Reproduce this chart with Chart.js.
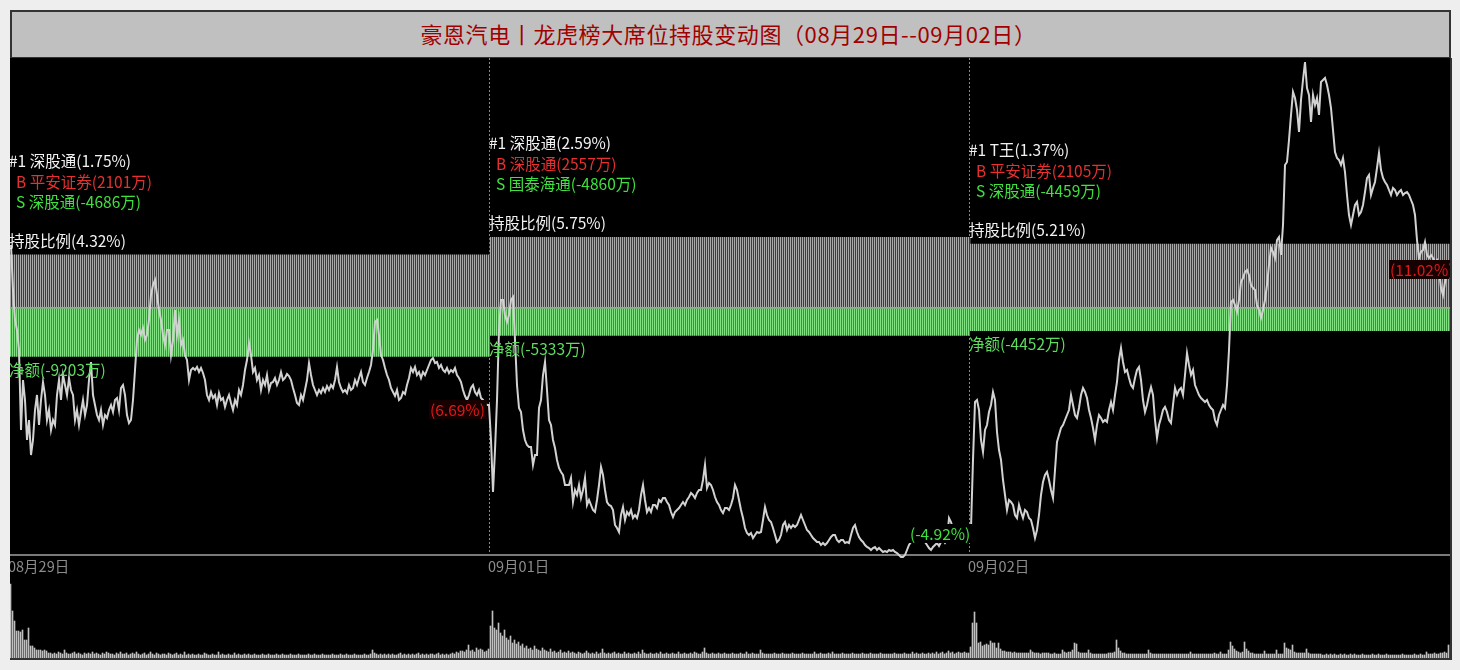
<!DOCTYPE html>
<html><head><meta charset="utf-8">
<script src="https://cdn.jsdelivr.net/npm/chart.js@4/dist/chart.umd.min.js"></script>
<style>
html,body{margin:0;padding:0;background:#eeeeee;width:1460px;height:670px;overflow:hidden;}
#title{position:absolute;left:10px;top:10px;width:1441px;height:49px;box-sizing:border-box;border:2px solid #333;background:#c0c0c0;color:#a00000;font:22px "Noto Sans CJK SC";letter-spacing:0.6px;text-align:center;line-height:43px;padding-right:4px;}
#wrap{position:absolute;left:10px;top:58px;width:1440px;height:600px;background:#000;border-right:2px solid #333;border-bottom:2px solid #333;}
canvas{display:block;}
</style></head>
<body>
<div id="title">豪恩汽电丨龙虎榜大席位持股变动图（08月29日--09月02日）</div>
<div id="wrap"><canvas id="c" width="1440" height="600"></canvas></div>
<script>
// ---- categories / labels ----
const dates = ['08月29日','09月01日','09月02日'];
const topSeat = ['深股通','深股通','T王'];
const topSeatPct = ['1.75%','2.59%','1.37%'];
const buySeat = ['平安证券','深股通','平安证券'];
const buyAmt = [2101, 2557, 2105];
const sellSeat = ['深股通','国泰海通','深股通'];
const sellAmt = [-4686, -4860, -4459];
const holdPct = [4.32, 5.75, 5.21];
const netAmt = [-9203, -5333, -4452];
const dayChg = ['6.69%', '-4.92%', '11.02%'];

// ---- minute prices (元), 240 per day ----
const price0829 = [
51.24,50.34,49.74,49.54,49.14,47.54,48.54,48.14,47.34,47.74,
47.04,47.34,47.94,48.24,47.64,48.14,48.50,48.24,47.74,47.94,
47.54,47.74,47.64,48.24,48.54,48.14,48.64,48.44,48.24,48.58,
48.34,48.24,47.74,47.94,47.64,47.90,48.14,47.84,48.04,48.54,
48.90,48.24,48.04,47.84,47.74,47.94,47.64,47.84,47.78,47.94,
48.04,47.90,48.14,48.18,47.94,48.38,48.44,48.24,47.84,47.68,
47.74,48.14,48.74,49.34,49.54,49.44,49.58,49.34,49.44,49.74,
50.24,50.44,50.54,50.24,49.94,49.74,49.44,49.24,49.54,49.54,
49.04,49.34,49.94,49.44,49.74,49.24,49.34,49.04,48.94,48.54,
48.74,48.78,48.74,48.80,48.70,48.78,48.68,48.54,48.24,48.14,
48.30,48.18,48.24,48.04,48.28,48.14,48.18,48.00,48.14,48.24,
48.08,47.94,48.14,48.04,48.34,48.24,48.44,48.74,48.94,49.28,
49.04,48.70,48.78,48.54,48.64,48.34,48.54,48.44,48.64,48.34,
48.48,48.50,48.58,48.44,48.54,48.70,48.54,48.58,48.66,48.62,
48.54,48.38,48.24,48.08,48.04,48.24,48.14,48.34,48.54,48.88,
48.64,48.44,48.34,48.24,48.34,48.28,48.38,48.30,48.42,48.34,
48.44,48.38,48.54,48.80,48.50,48.38,48.30,48.34,48.28,48.44,
48.34,48.38,48.54,48.44,48.58,48.70,48.50,48.44,48.58,48.70,
48.84,49.14,49.70,49.74,49.44,49.04,48.94,48.78,48.64,48.54,
48.38,48.30,48.22,48.34,48.14,48.18,48.30,48.26,48.44,48.58,
48.78,48.70,48.80,48.64,48.70,48.58,48.70,48.64,48.74,48.84,
48.94,48.98,48.88,48.90,48.78,48.84,48.74,48.70,48.78,48.68,
48.74,48.70,48.78,48.64,48.58,48.50,48.34,48.22,48.14,48.24,
48.38,48.44,48.30,48.24,48.34,48.18,48.14,48.08,48.04,48.04];
const price0901 = [
47.34,46.30,47.14,48.14,49.54,50.14,50.14,49.84,49.70,49.84,
50.14,50.20,49.34,48.44,47.98,47.90,47.54,47.34,47.24,47.20,
47.20,46.84,47.04,47.04,47.98,48.14,48.64,48.90,48.34,47.74,
47.64,47.34,47.18,46.94,46.78,46.70,46.64,46.44,46.44,46.44,
46.58,46.10,46.34,46.24,46.44,46.18,46.34,46.58,46.04,46.14,
46.04,45.94,45.90,46.14,46.44,46.80,46.64,46.34,46.10,46.04,
46.02,45.94,45.64,45.58,45.50,45.84,46.00,45.74,45.90,45.84,
45.94,45.78,45.84,45.78,45.94,46.24,46.44,46.14,45.90,45.98,
45.90,46.04,46.04,45.98,46.14,46.10,46.18,46.18,46.10,46.04,
45.90,45.80,45.90,45.94,45.98,46.04,46.10,46.04,46.14,46.20,
46.28,46.24,46.18,46.28,46.34,46.34,46.54,46.84,46.38,46.48,
46.44,46.34,46.20,46.10,46.04,45.94,45.88,45.98,45.98,45.94,
46.04,46.18,46.44,46.34,46.14,45.94,45.78,45.58,45.48,45.44,
45.48,45.38,45.44,45.50,45.48,45.50,45.74,46.00,45.84,45.74,
45.70,45.58,45.44,45.30,45.34,45.44,45.64,45.70,45.54,45.64,
45.58,45.64,45.60,45.64,45.74,45.84,45.74,45.64,45.54,45.50,
45.44,45.38,45.34,45.30,45.30,45.24,45.28,45.24,45.28,45.34,
45.40,45.44,45.44,45.34,45.30,45.34,45.34,45.28,45.30,45.28,
45.44,45.58,45.64,45.50,45.40,45.34,45.30,45.24,45.20,45.18,
45.14,45.18,45.20,45.14,45.18,45.14,45.10,45.12,45.10,45.14,
45.12,45.14,45.10,45.08,45.04,45.00,45.00,45.04,45.14,45.24,
45.30,45.34,45.50,45.54,45.40,45.34,45.38,45.30,45.24,45.18,
45.14,45.20,45.24,45.28,45.22,45.30,45.34,45.28,45.34,45.78,
45.70,45.56,45.50,45.52,45.48,45.50,45.46,45.48,45.46,45.46];
const price0902 = [
45.58,46.94,48.10,48.14,47.94,47.34,47.10,47.54,47.64,47.90,
48.04,48.30,48.14,47.50,47.14,46.94,46.54,46.24,45.94,46.14,
46.10,46.04,45.84,45.78,46.04,45.90,45.78,45.94,45.90,45.78,
45.74,45.58,45.38,45.54,45.84,46.24,46.50,46.64,46.70,46.54,
46.34,46.18,46.74,47.30,47.44,47.58,47.64,47.74,47.84,47.94,
48.24,48.04,47.84,47.78,47.98,48.24,48.38,48.30,48.18,47.94,
47.78,47.58,47.34,47.64,47.84,47.78,47.70,47.74,47.70,47.94,
48.10,47.94,48.24,48.50,48.94,49.18,48.90,48.70,48.74,48.58,
48.44,48.38,48.58,48.74,48.80,48.54,48.14,47.90,48.04,48.24,
48.40,48.24,47.74,47.38,47.64,47.78,47.94,48.00,47.90,47.74,
47.68,48.04,48.38,48.24,48.34,48.38,48.24,48.64,49.08,48.84,
48.64,48.74,48.44,48.34,48.24,48.18,48.14,48.10,48.14,48.04,
47.98,47.94,47.74,47.64,47.84,47.94,48.04,47.98,48.44,49.14,
50.10,50.14,50.04,49.90,50.14,50.50,50.58,50.70,50.74,50.64,
50.44,50.38,50.34,50.04,49.94,49.78,49.94,50.14,50.44,50.84,
51.18,51.10,50.98,51.34,51.40,51.04,51.64,52.84,52.90,53.34,
53.84,54.30,54.18,53.94,53.50,54.14,54.54,54.90,54.38,54.24,
53.70,54.24,54.04,54.18,53.84,54.50,54.54,54.58,54.44,54.24,
53.98,53.54,53.10,52.98,52.94,52.84,52.98,52.70,52.24,51.84,
51.64,51.84,52.04,52.10,51.84,51.90,52.04,52.30,52.58,52.64,
52.24,52.38,52.50,52.78,53.08,52.74,52.58,52.50,52.44,52.34,
52.24,52.38,52.34,52.24,52.30,52.34,52.24,52.28,52.30,52.24,
52.14,52.04,51.84,51.34,50.98,51.10,51.14,51.30,51.04,50.98,
51.04,50.98,50.90,50.94,50.74,50.38,50.24,50.50,50.64,50.70];

// ---- minute volume (百手), 240 per day ----
const vol0829 = [
74,47,37,27,27,26,28,18,18,30, 12,12,10,8,8,8,7,8,7,5,
5,4,5,4,6,5,4,8,5,4, 4,5,6,4,5,4,3,5,4,5,
4,6,4,5,4,3,5,4,6,5, 4,4,3,5,4,6,4,4,5,3,
4,5,4,6,4,3,4,5,3,4, 6,4,3,5,4,3,4,4,3,5,
4,3,4,5,3,4,3,6,3,4, 3,4,3,3,4,3,3,5,4,3,
3,4,3,3,6,3,4,3,3,4, 3,3,5,3,4,3,3,4,3,4,
3,3,4,3,3,3,4,3,3,4, 3,3,3,4,3,3,4,3,3,3,
4,3,3,3,4,3,3,3,3,4, 3,3,4,3,3,3,4,3,3,3,
3,4,3,3,3,4,3,3,4,3, 3,3,4,3,3,3,3,4,3,3,
4,8,5,4,3,4,3,4,3,4, 3,4,3,3,4,5,3,4,3,4,
3,4,3,4,5,3,4,3,4,3, 4,4,3,4,5,3,4,3,4,3,
4,5,4,6,5,7,7,6,8,13, 7,8,6,10,8,9,8,6,7,9];
const vol0901 = [
32,47,30,28,35,25,22,28,20,18, 22,15,18,14,16,12,14,10,12,9,
10,8,12,9,8,7,10,8,7,6, 9,6,7,5,6,8,5,6,5,7,
5,6,5,4,6,5,4,5,7,5, 4,5,4,6,4,5,9,5,4,5,
4,5,6,4,5,4,4,6,4,5, 4,4,5,4,6,4,8,5,4,4,
5,4,4,5,4,6,4,4,5,4, 4,5,4,4,6,4,4,5,4,4,
5,4,6,5,4,4,6,10,5,4, 4,5,4,4,5,4,4,5,4,4,
4,5,4,4,4,5,4,4,6,4, 4,5,4,4,4,8,5,4,4,4,
4,4,5,4,4,4,5,4,4,4, 4,5,4,4,4,4,5,4,4,4,
4,4,6,4,4,5,4,4,4,5, 4,6,4,4,4,4,5,4,4,4,
4,5,4,4,4,4,5,4,4,4, 5,4,4,4,4,5,4,4,4,4,
4,4,5,4,4,4,4,5,4,4, 4,6,4,5,4,4,5,4,4,5,
4,5,4,6,4,5,6,4,5,7, 5,6,4,5,6,5,5,6,5,5];
const vol0902 = [
11,35,46,35,15,16,12,13,14,13, 17,15,15,10,15,9,7,7,6,6,
6,5,6,5,5,5,5,5,5,5, 8,6,5,5,5,4,5,5,5,5,
4,4,5,4,4,4,8,6,5,6, 6,8,15,14,6,5,5,5,5,8,
5,4,4,4,4,4,4,4,4,5, 5,5,6,18,10,7,5,5,4,4,
4,4,4,4,4,4,4,4,4,8, 5,4,4,4,4,4,4,4,4,4,
4,4,4,4,4,4,4,4,4,4, 6,4,4,4,4,4,4,4,4,4,
4,4,5,4,4,6,4,4,4,8, 16,12,9,7,6,5,6,16,9,7,
5,5,4,4,4,4,4,7,4,4, 4,4,4,8,4,4,4,15,10,9,
8,13,6,5,5,5,5,5,9,5, 4,4,4,4,4,4,3,3,4,3,
4,3,4,3,3,4,3,4,3,3, 4,3,4,3,3,3,4,3,3,3,
3,4,3,3,4,3,3,3,4,3, 3,3,3,3,3,3,4,3,3,3,
3,3,4,3,3,4,3,3,6,4, 4,4,5,4,4,5,5,6,5,13];

const prices = [price0829, price0901, price0902];
const vols = [vol0829, vol0901, vol0902];
const PER_DAY = 240;

const canvas = document.getElementById('c');
const ctx = canvas.getContext('2d');
function stripe(c1, c2) {
  const cv = document.createElement('canvas'); cv.width = 2; cv.height = 1;
  const g = cv.getContext('2d');
  g.fillStyle = c1; g.fillRect(0, 0, 1, 1);
  g.fillStyle = c2; g.fillRect(1, 0, 1, 1);
  return ctx.createPattern(cv, 'repeat');
}
const grayPat = stripe('#a8a8a8', '#3c3c3c');
const greenPat = stripe('#80e280', '#3a923a');

const lineData = prices.flatMap((arr, d) => arr.map((p, m) => ({x: d * PER_DAY + m, y: p})));
const volData = vols.flatMap((arr, d) => arr.map((v, m) => ({x: d * PER_DAY + m, y: v})));

const FONT = '"Noto Sans CJK SC", sans-serif';
const overlay = {
  id: 'overlay',
  beforeDatasetsDraw(chart) {
    const {ctx, chartArea, scales} = chart;
    ctx.save();
    ctx.strokeStyle = '#7a7a7a'; ctx.lineWidth = 2;
    ctx.beginPath(); ctx.moveTo(chartArea.left, 497); ctx.lineTo(chartArea.right, 497); ctx.stroke();
    ctx.strokeStyle = '#8a8a8a'; ctx.lineWidth = 1; ctx.setLineDash([2, 2]);
    for (let d = 1; d < dates.length; d++) {
      const x = Math.round(scales.x.getPixelForValue(d * PER_DAY - 0.5)) - 0.5;
      ctx.beginPath(); ctx.moveTo(x, 0); ctx.lineTo(x, 496); ctx.stroke();
    }
    ctx.restore();
  },
  afterDraw(chart) {
    const {ctx, scales} = chart;
    ctx.save();
    ctx.textBaseline = 'middle'; ctx.textAlign = 'left';
    for (let d = 0; d < dates.length; d++) {
      const x0 = scales.x.getPixelForValue(d * PER_DAY - 0.5);
      const bandTop = scales.yR.getPixelForValue(holdPct[d]);
      const bandBot = scales.yN.getPixelForValue(netAmt[d]);
      ctx.font = '15.5px ' + FONT;
      ctx.fillStyle = '#f2f2f2';
      ctx.fillText('#1 ' + topSeat[d] + '(' + topSeatPct[d] + ')', x0 - 1, bandTop - 94);
      ctx.fillStyle = '#e83030';
      ctx.fillText('B ' + buySeat[d] + '(' + buyAmt[d] + '万)', x0 + 6, bandTop - 73);
      ctx.fillStyle = '#3ee23e';
      ctx.fillText('S ' + sellSeat[d] + '(' + sellAmt[d] + '万)', x0 + 6, bandTop - 53);
      ctx.fillStyle = '#f2f2f2';
      ctx.fillText('持股比例(' + holdPct[d].toFixed(2) + '%)', x0 - 1, bandTop - 14);
      ctx.fillStyle = '#5ede5e';
      ctx.fillText('净额(' + netAmt[d] + '万)', x0 - 1, bandBot + 13);
      const arr = prices[d];
      const yc = scales.yP.getPixelForValue(arr[arr.length - 1]) + [5, 0, -2][d];
      const txt = '(' + dayChg[d] + ')';
      const tx = x0 + 420;
      const w = ctx.measureText(txt).width;
      ctx.fillStyle = dayChg[d].startsWith('-') ? '#000' : '#160000';
      ctx.fillRect(tx - 1, yc - 10, w + 3, 19);
      ctx.fillStyle = dayChg[d].startsWith('-') ? '#3ee23e' : '#e01818';
      ctx.fillText(txt, tx, yc);
      ctx.font = '14.5px ' + FONT;
      ctx.fillStyle = '#8c8c8c';
      ctx.fillText(dates[d], x0 - 2, 508);
    }
    ctx.restore();
  }
};

new Chart(ctx, {
  type: 'bar',
  data: {
    datasets: [
      {type: 'line', label: '股价', data: lineData, xAxisID: 'x', yAxisID: 'yP',
       borderColor: '#d2d2d2', borderWidth: 2, pointRadius: 0, tension: 0, order: 0},
      {type: 'bar', label: '净额', data: netAmt.map(v => [0, v]), xAxisID: 'xD', yAxisID: 'yN',
       backgroundColor: greenPat, borderColor: '#8cae8c', borderWidth: {top: 2, bottom: 0, left: 0, right: 0},
       borderSkipped: false, grouped: false, categoryPercentage: 1, barPercentage: 1, order: 2},
      {type: 'bar', label: '持股比例', data: holdPct.map(v => [0, v]), xAxisID: 'xD', yAxisID: 'yR',
       backgroundColor: grayPat, borderWidth: 0, grouped: false, categoryPercentage: 1, barPercentage: 1, order: 3},
      {type: 'bar', label: '成交量', data: volData, xAxisID: 'x', yAxisID: 'yV',
       backgroundColor: '#c0c0c0', borderWidth: 0, categoryPercentage: 1, barPercentage: 1, order: 4}
    ]
  },
  options: {
    responsive: false, animation: false, devicePixelRatio: 1,
    layout: {padding: 0},
    plugins: {legend: {display: false}, tooltip: {enabled: false}, title: {display: false}},
    scales: {
      x: {type: 'linear', min: -0.5, max: 3 * PER_DAY - 0.5, offset: false, display: false},
      xD: {type: 'category', labels: dates, offset: true, display: false},
      yP: {type: 'linear', min: 42.98, max: 54.98, display: false},
      yR: {type: 'linear', min: -29.01, max: 20.58, display: false},
      yN: {type: 'linear', min: -65005, max: 46115, display: false},
      yV: {type: 'linear', min: 0, max: 600, display: false}
    }
  },
  plugins: [overlay]
});
</script>
</body></html>
